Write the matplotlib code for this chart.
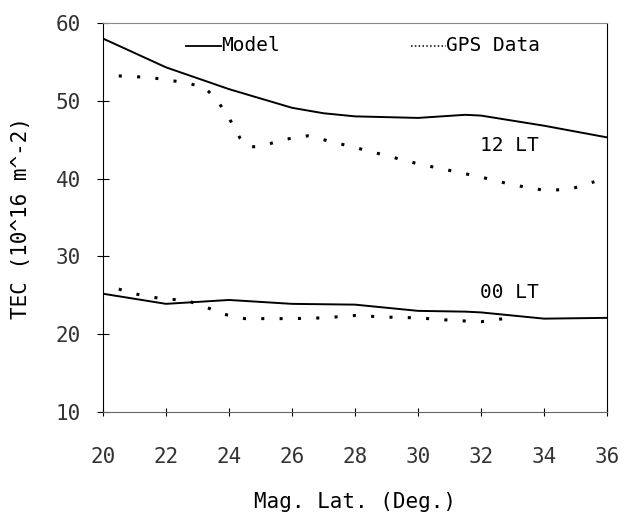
import matplotlib as mpl; mpl.use("Agg")
import matplotlib.pyplot as plt

# 12 LT
lat_model = [20, 22, 24, 26, 27, 28, 30, 31.5, 32, 34, 36]
model_12 = [58.0, 54.3, 51.5, 49.1, 48.4, 48.0, 47.8, 48.2, 48.1, 46.8, 45.3]
lat_gps12 = [20.5, 21.5, 22.5, 23.2, 23.6, 24.0, 24.35, 24.6, 25.0, 25.7, 26.5, 28, 30, 32, 33, 34, 34.8, 35.6]
gps_12 = [53.2, 53.0, 52.4, 51.8, 50.2, 47.8, 45.2, 44.1, 44.1, 45.0, 45.5, 44.0, 41.9, 40.2, 39.2, 38.5, 38.6, 39.6]

# 00 LT
model_00 = [25.2, 23.9, 24.4, 23.9, 23.85, 23.8, 23.0, 22.9, 22.8, 22.0, 22.1]
lat_gps00 = [20.5, 21.0, 21.5, 22.0, 22.6, 23.2, 23.8, 24.5, 25.0, 26.0, 27.0, 28.0, 29.0, 30.0, 31.0, 32.0, 32.9]
gps_00 = [25.8, 25.2, 24.8, 24.5, 24.4, 23.6, 22.6, 22.0, 22.0, 22.0, 22.1, 22.4, 22.2, 22.1, 21.8, 21.6, 22.1]

xticks = [20, 22, 24, 26, 28, 30, 32, 34, 36]
yticks = [10, 20, 30, 40, 50, 60]

plt.rcParams.update({"font.family": "DejaVu Sans Mono", "font.size": 14})
fig = plt.figure(figsize=(6.29, 5.17), dpi=100)
ax = fig.add_axes([0.1638, 0.2031, 0.8012, 0.7524])

dots = (0, (1, 5))
ax.plot(lat_model, model_12, color="black", lw=1.4)
ax.plot(lat_gps12, gps_12, color="black", lw=2.2, linestyle=dots)
ax.plot(lat_model, model_00, color="black", lw=1.4)
ax.plot(lat_gps00, gps_00, color="black", lw=2.2, linestyle=dots)

ax.text(31.97, 44.3, "12 LT", fontsize=14, va="center")
ax.text(31.97, 25.3, "00 LT", fontsize=14, va="center")

# legend drawn by hand in axes coords
ax.plot([0.165, 0.234], [0.942, 0.942], transform=ax.transAxes, color="black", lw=1.3)
ax.text(0.234, 0.942, "Model", transform=ax.transAxes, va="center", fontsize=14)
ax.plot([0.612, 0.680], [0.942, 0.942], transform=ax.transAxes, color="black", lw=1.1,
        linestyle=(0, (1, 1.5)))
ax.text(0.680, 0.942, "GPS Data", transform=ax.transAxes, va="center", fontsize=14)

ax.set_xlim(20, 36)
ax.set_ylim(10, 60)
ax.set_xticks(xticks)
ax.set_yticks(yticks)
ax.tick_params(axis="x", direction="inout", length=6, width=0.8, pad=22, labelsize=15)
ax.tick_params(axis="y", direction="inout", length=8, width=0.8, pad=12, labelsize=15)
for lab in ax.get_xticklabels() + ax.get_yticklabels():
    lab.set_color("#333333")
for s in ax.spines.values():
    s.set_linewidth(0.8)
ax.spines["top"].set_color("#888888")
ax.spines["bottom"].set_color("#666666")

ax.set_xlabel("Mag. Lat. (Deg.)", fontsize=15, labelpad=18)
ax.set_ylabel("TEC (10^16 m^-2)", fontsize=15, labelpad=18)

fig.savefig("out.png", dpi=100)
